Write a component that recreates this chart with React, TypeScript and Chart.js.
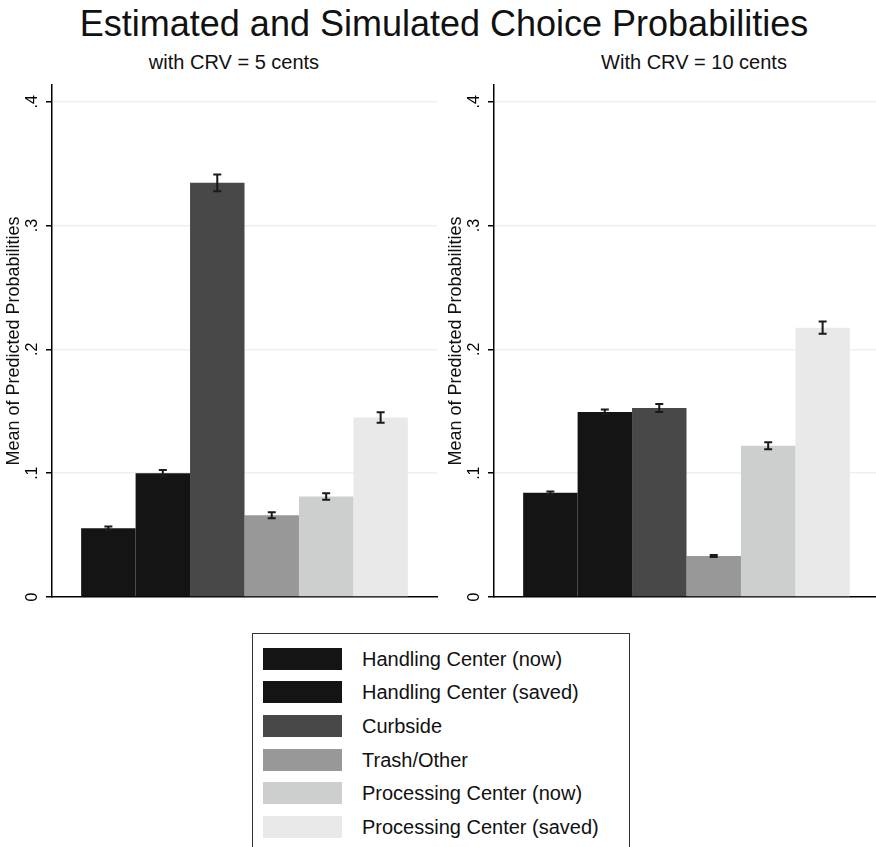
import React, { useEffect, useRef } from "react";
import { Chart, registerables } from "chart.js";

Chart.register(...registerables);

// ---------- data ----------
const chartTitle = "Estimated and Simulated Choice Probabilities";
const panelTitles = ["with CRV = 5 cents", "With CRV = 10 cents"];
const yAxisTitle = "Mean of Predicted Probabilities";

const seriesLabels = [
  "Handling Center (now)",
  "Handling Center (saved)",
  "Curbside",
  "Trash/Other",
  "Processing Center (now)",
  "Processing Center (saved)",
];
const seriesColors = ["#141414", "#141414", "#484848", "#989898", "#cdcfce", "#e8e9e8"];

const crv5Means = [0.0555, 0.1, 0.3345, 0.066, 0.0812, 0.145];
const crv5Errors = [0.0015, 0.0025, 0.0068, 0.0024, 0.0026, 0.0043];

const crv10Means = [0.0841, 0.1495, 0.1527, 0.0331, 0.1221, 0.2175];
const crv10Errors = [0.0011, 0.002, 0.0032, 0.0008, 0.0028, 0.0049];

const yTickValues = [0, 0.1, 0.2, 0.3, 0.4];
const yTickLabels = ["0", ".1", ".2", ".3", ".4"];
const yMax = 0.4135;

const FONT = '"Liberation Sans", Arial, Helvetica, sans-serif';

function makeErrorBarPlugin(errors: number[]) {
  return {
    id: "errorBars",
    afterDatasetsDraw(chart: any) {
      const ctx = chart.ctx;
      const y = chart.scales.y;
      chart.data.datasets.forEach((ds: any, i: number) => {
        const meta = chart.getDatasetMeta(i);
        const bar = meta.data[0];
        if (!bar) return;
        const v = ds.data[0];
        const e = errors[i];
        const yt = y.getPixelForValue(v + e);
        const yb = y.getPixelForValue(v - e);
        ctx.save();
        ctx.strokeStyle = "#1a1a1a";
        ctx.lineWidth = 2;
        ctx.beginPath();
        ctx.moveTo(bar.x, yt);
        ctx.lineTo(bar.x, yb);
        ctx.moveTo(bar.x - 4, yt);
        ctx.lineTo(bar.x + 4, yt);
        ctx.moveTo(bar.x - 4, yb);
        ctx.lineTo(bar.x + 4, yb);
        ctx.stroke();
        ctx.restore();
      });
    },
  };
}

function Panel({ means, errors, left }: { means: number[]; errors: number[]; left: number }) {
  const ref = useRef<HTMLCanvasElement | null>(null);
  useEffect(() => {
    if (!ref.current) return;
    const chart = new Chart(ref.current, {
      type: "bar",
      data: {
        labels: [""],
        datasets: seriesLabels.map((label, i) => ({
          label,
          data: [means[i]],
          backgroundColor: seriesColors[i],
          borderWidth: 0,
          categoryPercentage: 0.8486,
          barPercentage: 1,
        })),
      },
      options: {
        animation: false,
        responsive: false,
        maintainAspectRatio: false,
        layout: { padding: { left: 0, right: 5, top: 45, bottom: 23 } },
        plugins: {
          legend: { display: false },
          tooltip: { enabled: false },
          title: { display: false },
        },
        scales: {
          x: {
            grid: { display: false },
            border: { display: true, color: "#000", width: 1.5 },
            ticks: { display: false },
            afterFit: (s: any) => {
              s.height = 0;
            },
          },
          y: {
            min: 0,
            max: yMax,
            afterBuildTicks: (s: any) => {
              s.ticks = yTickValues.map((v) => ({ value: v }));
            },
            ticks: {
              callback: (v: any) => {
                const idx = yTickValues.findIndex((t) => Math.abs(t - Number(v)) < 1e-9);
                return idx >= 0 ? yTickLabels[idx] : "";
              },
              minRotation: 90,
              maxRotation: 90,
              crossAlign: "center",
              padding: 7,
              color: "#000",
              font: { family: FONT, size: 16 },
            },
            grid: {
              color: (c: any) => (c.tick && c.tick.value === 0 ? "rgba(0,0,0,0)" : "#efefef"),
              lineWidth: 1.5,
              tickColor: "#000",
              tickLength: 6,
              drawTicks: true,
            },
            border: { display: true, color: "#000", width: 1.5 },
            title: {
              display: true,
              text: yAxisTitle,
              color: "#111",
              font: { family: FONT, size: 18 },
              padding: { top: 3, bottom: 0 },
            },
            afterFit: (s: any) => {
              s.width = 52;
            },
          },
        },
      },
      plugins: [makeErrorBarPlugin(errors)],
    } as any);
    return () => chart.destroy();
  }, []);
  return (
    <canvas
      ref={ref}
      width={442}
      height={580}
      style={{ position: "absolute", left, top: 40, width: 442, height: 580 }}
    />
  );
}

export default function App() {
  return (
    <div
      style={{
        position: "absolute",
        left: 0,
        top: 0,
        width: 876,
        height: 847,
        overflow: "hidden",
        background: "#fff",
        fontFamily: FONT,
        color: "#111",
      }}
    >
      <div
        style={{
          position: "absolute",
          left: 44,
          width: 800,
          top: 6,
          textAlign: "center",
          fontSize: 36,
          lineHeight: "36px",
          whiteSpace: "nowrap",
        }}
      >
        {chartTitle}
      </div>
      <div
        style={{
          position: "absolute",
          left: 34,
          width: 400,
          top: 52,
          textAlign: "center",
          fontSize: 20,
          lineHeight: "20px",
          whiteSpace: "nowrap",
        }}
      >
        {panelTitles[0]}
      </div>
      <div
        style={{
          position: "absolute",
          left: 494,
          width: 400,
          top: 52,
          textAlign: "center",
          fontSize: 20,
          lineHeight: "20px",
          whiteSpace: "nowrap",
        }}
      >
        {panelTitles[1]}
      </div>
      <Panel means={crv5Means} errors={crv5Errors} left={0} />
      <Panel means={crv10Means} errors={crv10Errors} left={441.5} />
      <div
        style={{
          position: "absolute",
          left: 252,
          top: 633,
          width: 378,
          height: 260,
          border: "1.5px solid #333",
          boxSizing: "border-box",
        }}
      >
        {seriesLabels.map((label, i) => (
          <div
            key={label}
            style={{
              position: "absolute",
              left: 10,
              top: 13.5 + i * 33.7,
              height: 22,
              display: "flex",
              alignItems: "center",
              whiteSpace: "nowrap",
            }}
          >
            <div style={{ width: 79, height: 22, background: seriesColors[i] }} />
            <span style={{ marginLeft: 20, fontSize: 20, lineHeight: "22px" }}>{label}</span>
          </div>
        ))}
      </div>
    </div>
  );
}
